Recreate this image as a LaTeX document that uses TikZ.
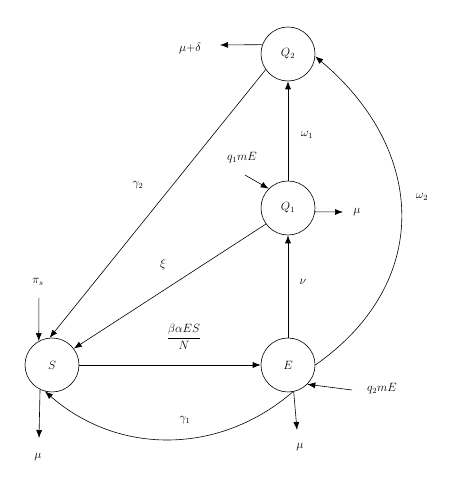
\documentclass[tikz,border=0pt]{standalone}
\usetikzlibrary{arrows.meta}

\tikzset{
  compart/.style={draw, circle, minimum size=54pt, inner sep=0pt},
}

\begin{document}
\begin{tikzpicture}[x=1pt, y=1pt, >={Latex[length=8pt,width=6pt]}, line width=0.6pt, font=\large]
            \useasboundingbox (0,0) rectangle (449,481);

            \node[compart] (Q2) at (288, 427) {$Q_2$};
            \node[compart] (Q1) at (288, 273) {$Q_1$};
            \node[compart] (S) at (52, 116) {$S$};
            \node[compart] (E) at (288, 116) {$E$};

            \coordinate (outQ2) at (220, 436);
            \coordinate (outQ1) at (343, 269);
            \coordinate (inQ1) at (245, 306);
            \coordinate (inS) at (38.9, 183);
            \coordinate (outS) at (39, 43);
            \coordinate (outE) at (297, 51);
            \coordinate (inE) at (352, 91);

            \node (lmud) at (190, 432) {$\mu$+$\delta$};
            \node (lw1) at (307, 346) {$\omega_1$};
            \node (lq1) at (242, 323) {$q_1mE$};
            \node (lmu1) at (357, 269) {$\mu$};
            \node (lg2) at (138, 296) {$\gamma_2$};
            \node (lw2) at (422, 284) {$\omega_2$};
            \node (lxi) at (163, 216) {$\xi$};
            \node (lpi) at (38, 199) {$\pi_s$};
            \node (lnu) at (303, 199) {$\nu$};
            \node (lbeta) at (184, 144) {$\displaystyle\frac{\beta\alpha ES}{N}$};
            \node (lq2) at (382, 92) {$q_2mE$};
            \node (lg1) at (185, 61) {$\gamma_1$};
            \node (lmuE) at (300, 34) {$\mu$};
            \node (lmuS) at (38, 24) {$\mu$};

            \draw[->] (Q2.160.5) to (outQ2);
            \draw[->] (Q1) to (Q2);
            \draw[->] (inQ1) to (Q1.135);
            \draw[->] (Q1.-8.5) to (outQ1);
            \draw[->] (Q2.215) to (S.95);
            \draw[->] (Q1.216) to (S.37);
            \draw[->] (inS) to (S.119);
            \draw[->] (E) to (Q1);
            \draw[->] (S) to (E);
            \draw[->] (E.280) to[bend left=41] (S.255);
            \draw[->] (E.282) to (outE);
            \draw[->] (inE) to (E.-45);
            \draw[->] (S.244) to (outS);
            \draw[->] (E.0) to[out=35, in=-40, looseness=1.2] (Q2.-5);
        \end{tikzpicture}
\end{document}
